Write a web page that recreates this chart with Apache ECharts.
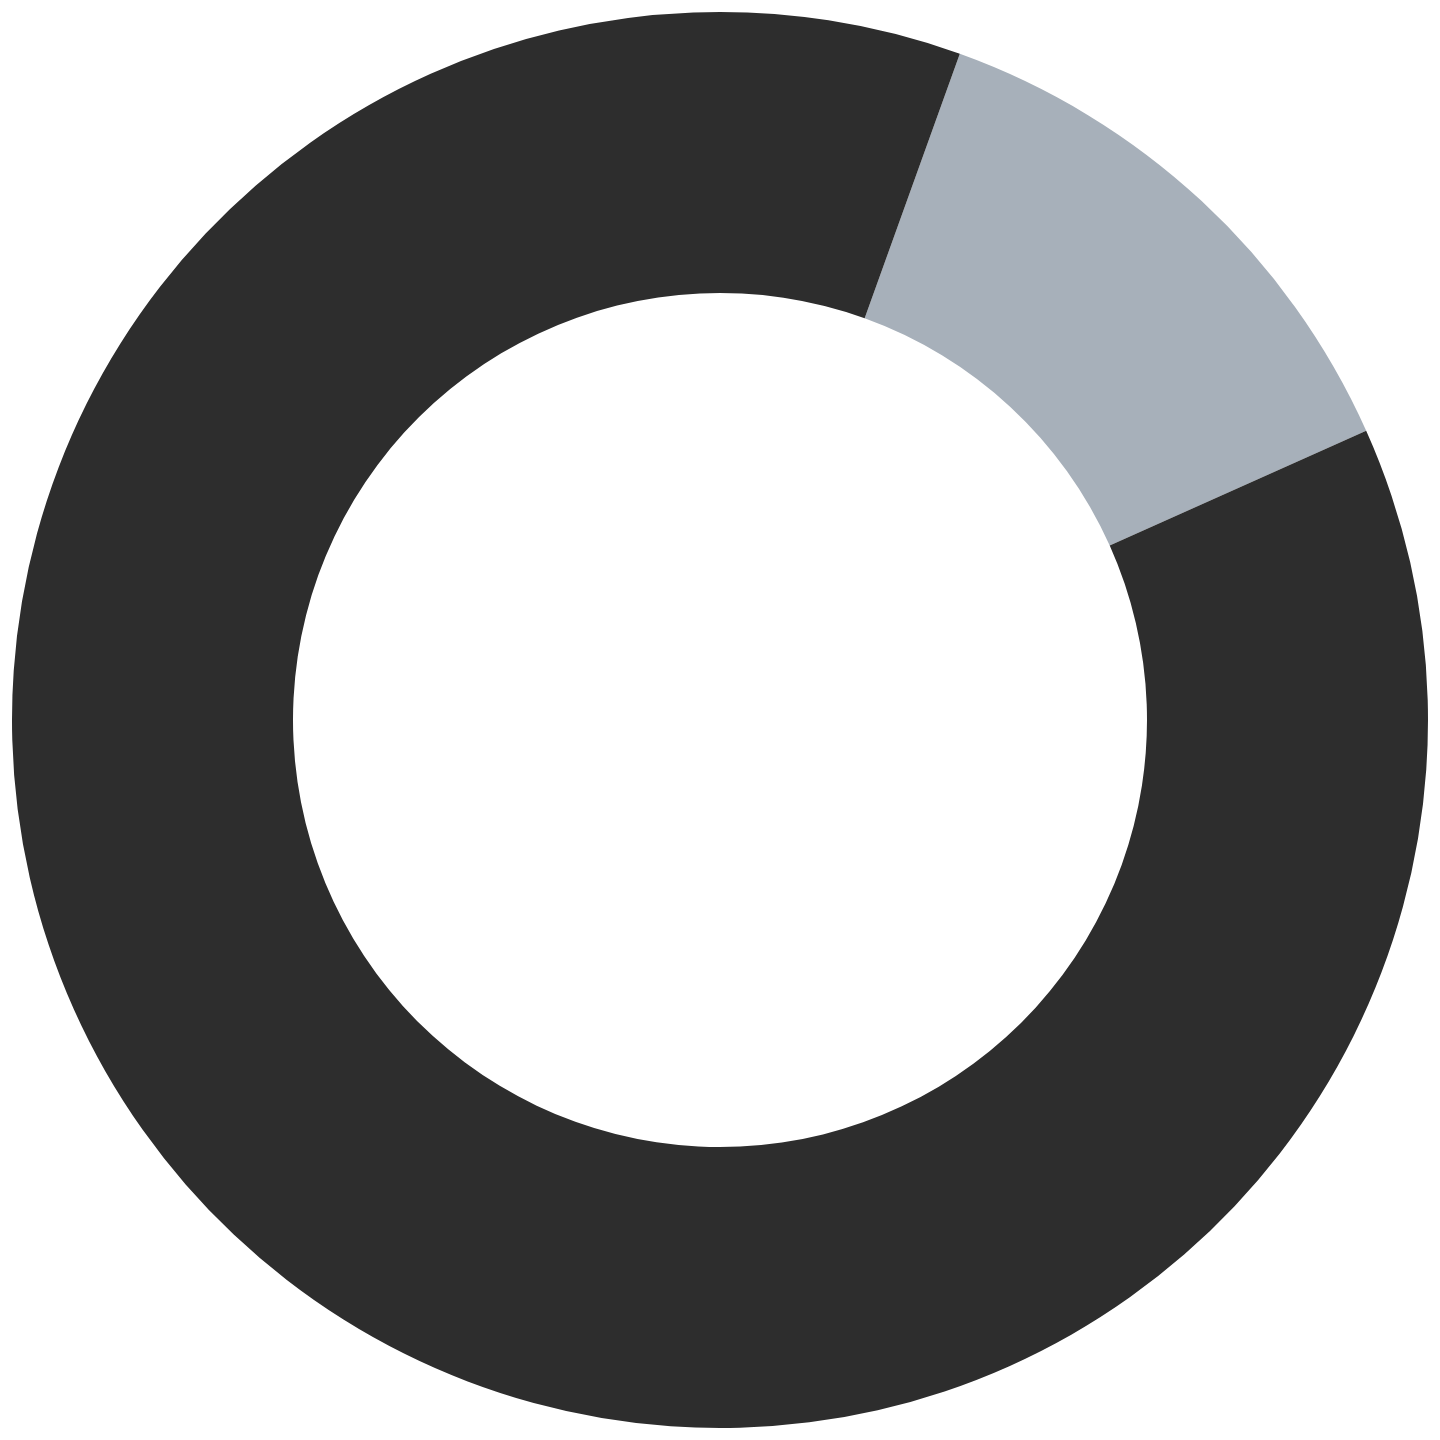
<!DOCTYPE html>
<html>
<head>
<meta charset="utf-8">
<script src="https://cdn.jsdelivr.net/npm/echarts@6/dist/echarts.min.js"></script>
<style>
  html, body { margin: 0; padding: 0; background: #fff; }
  #chart { width: 1440px; height: 1440px; }
</style>
</head>
<body>
<div id="chart"></div>
<script>
const categories = ['B', 'A'];
const values = [12.8, 87.2];
const colors = ['#a7b0ba', '#2d2d2d'];

const chart = echarts.init(document.getElementById('chart'));

chart.setOption({
  backgroundColor: '#fff',
  animation: false,
  series: [
    {
      type: 'pie',
      center: [720, 720],
      radius: [427, 708],
      startAngle: 70.2,
      clockwise: true,
      label: { show: false },
      labelLine: { show: false },
      emphasis: { disabled: true },
      itemStyle: { borderWidth: 0 },
      data: categories.map((name, i) => ({
        name,
        value: values[i],
        itemStyle: { color: colors[i] }
      }))
    }
  ]
});
</script>
</body>
</html>
